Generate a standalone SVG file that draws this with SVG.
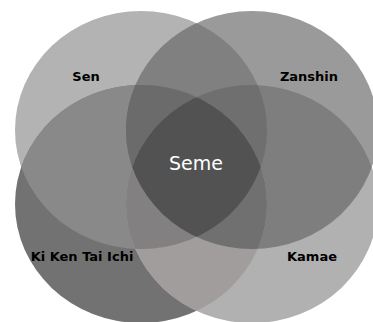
<svg xmlns="http://www.w3.org/2000/svg" xmlns:xlink="http://www.w3.org/1999/xlink" width="373" height="322" viewBox="0 0 373 322">
<style>
.lbl{font-family:"DejaVu Sans","Liberation Sans",sans-serif;font-weight:bold;font-size:13px;fill:#000;text-anchor:middle}
.ctr{font-family:"DejaVu Sans","Liberation Sans",sans-serif;font-size:19px;fill:#fff;text-anchor:middle}
</style>
<defs>
<ellipse id="eSen" cx="141" cy="130" rx="126" ry="119"/>
<ellipse id="eZan" cx="252" cy="130" rx="126" ry="119"/>
<ellipse id="eKi" cx="141" cy="204" rx="126" ry="119"/>
<ellipse id="eKam" cx="252" cy="204" rx="126" ry="119"/>
<clipPath id="cSen"><use xlink:href="#eSen"/></clipPath>
<clipPath id="cZan"><use xlink:href="#eZan"/></clipPath>
<clipPath id="cKi"><use xlink:href="#eKi"/></clipPath>
<clipPath id="cKam"><use xlink:href="#eKam"/></clipPath>
</defs>
<rect width="373" height="322" fill="#fff"/>
<g id="sen"><use xlink:href="#eSen" fill="#b3b3b3"/></g>
<g id="zanshin"><use xlink:href="#eZan" fill="#9a9a9a"/></g>
<g id="kikentaiichi"><use xlink:href="#eKi" fill="#727272"/></g>
<g id="kamae"><use xlink:href="#eKam" fill="#b2b1b1"/></g>
<g id="overlaps">
<use xlink:href="#eZan" clip-path="url(#cSen)" fill="#808080"/>
<use xlink:href="#eKi" clip-path="url(#cSen)" fill="#898989"/>
<use xlink:href="#eKam" clip-path="url(#cSen)" fill="#8a8a8a"/>
<use xlink:href="#eKi" clip-path="url(#cZan)" fill="#6e6e6e"/>
<use xlink:href="#eKam" clip-path="url(#cZan)" fill="#7e7e7e"/>
<use xlink:href="#eKam" clip-path="url(#cKi)" fill="#a19d9d"/>
<g clip-path="url(#cSen)"><use xlink:href="#eKi" clip-path="url(#cZan)" fill="#6b6b6b"/></g>
<g clip-path="url(#cSen)"><use xlink:href="#eKam" clip-path="url(#cZan)" fill="#6f6f6f"/></g>
<g clip-path="url(#cSen)"><use xlink:href="#eKam" clip-path="url(#cKi)" fill="#828080"/></g>
<g clip-path="url(#cZan)"><use xlink:href="#eKam" clip-path="url(#cKi)" fill="#707070"/></g>
<g clip-path="url(#cSen)"><g clip-path="url(#cZan)"><use xlink:href="#eKam" clip-path="url(#cKi)" fill="#525252"/></g></g>
</g>
<g id="labels">
<text class="lbl" x="86" y="81">Sen</text>
<text class="lbl" x="309" y="81">Zanshin</text>
<text class="lbl" x="82" y="261">Ki Ken Tai Ichi</text>
<text class="lbl" x="312" y="261">Kamae</text>
<text class="ctr" x="196" y="170">Seme</text>
</g>
</svg>
